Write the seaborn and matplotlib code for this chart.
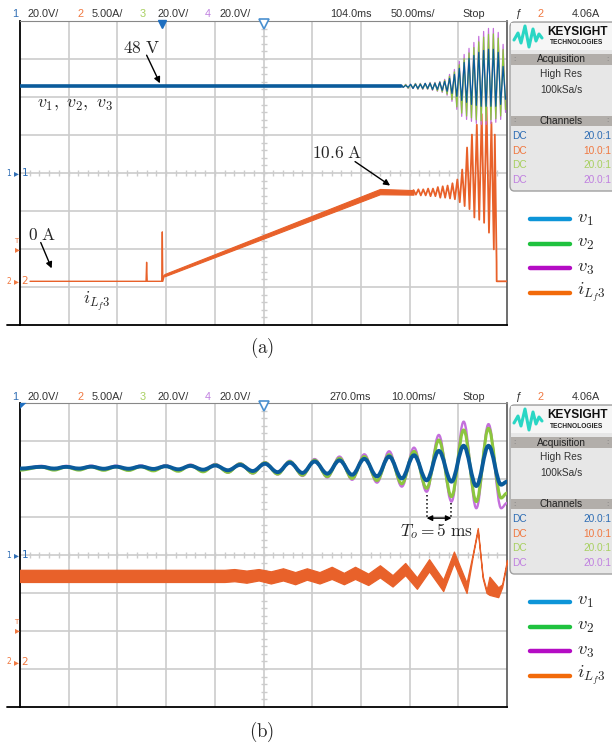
import numpy as np
import matplotlib
matplotlib.use("Agg")
import matplotlib.pyplot as plt
import seaborn as sns
from matplotlib.path import Path
from matplotlib.patches import PathPatch, FancyBboxPatch, Rectangle
from matplotlib.lines import Line2D

# screen scaling
V_DIV = 20.0      # V per division (ch1, ch3, ch4)
I_DIV = 5.0       # A per division (ch2)
I_ZERO = -2.85    # ch2 ground marker, in divisions
HALF = 2.5        # half of To = 5 ms

# ---------- (a) 50 ms/div, delay 104 ms ----------
A_CENTER, A_TDIV = 104.0, 50.0
va_flat_t = [-146.0, 245.0]
va_flat = 45.6
va_cyc_t = [245, 250, 255, 260, 265, 270, 275, 280, 285, 290, 295,
            300, 305, 310, 315, 320, 325, 330, 335, 340, 345, 350]
va1_top = [46.1, 46.1, 46.7, 46.7, 46.7, 47.2, 47.2, 47.2, 47.7, 48.2, 49.8,
           51.9, 55.1, 58.2, 60.3, 61.9, 63.5, 64.5, 65.1, 65.1, 63.5, 56.1]
va1_bot = [45.1, 45.1, 44.5, 44.5, 44.5, 44.5, 44.0, 44.0, 43.5, 43.0, 41.9,
           40.3, 38.2, 37.2, 36.1, 35.6, 35.1, 35.1, 35.1, 35.1, 36.1, 38.8]
va2_top = [46.0, 46.5, 46.5, 47.0, 47.0, 47.0, 47.4, 47.4, 47.9, 48.8, 50.9,
           53.2, 57.0, 60.2, 63.2, 66.0, 69.0, 71.5, 73.0, 73.2, 71.0, 65.0]
va2_bot = [45.2, 44.7, 44.7, 44.2, 44.2, 44.2, 43.8, 43.3, 42.8, 41.5, 38.6,
           34.8, 31.5, 30.0, 29.0, 28.0, 27.5, 27.5, 28.0, 28.6, 30.0, 33.5]
va3_top = [46.1, 46.7, 46.7, 47.2, 47.2, 47.2, 47.7, 47.7, 48.2, 49.3, 51.9,
           54.5, 58.8, 62.4, 65.6, 68.7, 71.9, 74.5, 76.1, 76.1, 74.0, 67.7]
va3_bot = [45.1, 44.5, 44.5, 44.0, 44.0, 44.0, 43.5, 43.0, 42.4, 40.9, 37.7,
           33.5, 29.8, 28.2, 27.2, 26.1, 25.6, 25.6, 26.1, 26.7, 28.2, 31.9]

ia_t = [-135.7, -16.6, -16.0, -15.4, -0.5, 0.1, 0.6, 2.2]
ia_v = [0.0, 0.0, 2.5, 0.0, 0.0, 6.5, 0.0, 0.8]
ia_ramp_t = [2.2, 223.6, 258.0]
ia_ramp_lo = [0.65, 11.45, 11.4]
ia_ramp_hi = [0.95, 12.15, 12.0]
ia_cyc_t = [258, 263, 268, 273, 278, 283, 288, 293, 298, 303, 308, 313, 318,
            323, 328, 333, 338]
ia_top = [12.0, 12.1, 12.1, 12.2, 12.2, 12.4, 12.5, 12.6, 12.9, 13.4, 14.7,
          17.6, 19.3, 20.6, 22.0, 22.9, 20.9]
ia_bot = [11.4, 11.3, 11.3, 11.2, 11.2, 11.0, 11.0, 10.9, 10.8, 10.4, 9.9,
          9.5, 8.4, 8.1, 7.7, 6.4, 4.2]
ia_tail_t = [341.5, 343.3, 343.4, 354.0]
ia_tail_v = [19.3, 2.5, 0.0, 0.0]

# ---------- (b) 10 ms/div, delay 270 ms ----------
B_CENTER, B_TDIV = 270.0, 10.0
vb_pk_t = [224.4, 229.5, 234.6, 239.7, 244.8, 249.9, 255.0, 260.1, 265.2, 270.3,
           275.4, 280.5, 285.6, 290.7, 295.8, 300.9, 306.0, 311.1, 316.2]
vb_tr_t = [220.0, 227.0, 232.1, 237.2, 242.3, 247.4, 252.5, 257.6, 262.7, 267.8,
           272.9, 278.0, 283.1, 288.2, 293.3, 298.4, 303.5, 308.6, 313.7, 318.8]
vb_end_t = 320.0
vb1_pk = [46.4, 46.4, 46.5, 46.5, 46.6, 46.7, 46.9, 47.1, 47.4, 48.0,
          48.6, 49.2, 49.8, 50.6, 51.8, 52.5, 54.8, 57.5, 57.5]
vb1_tr = [45.5, 45.5, 45.5, 45.4, 45.4, 45.3, 45.1, 44.9, 44.6, 44.2,
          43.6, 43.2, 42.8, 42.2, 41.4, 40.3, 39.3, 38.6, 36.3, 37.0]
vb1_end = 38.6
vb2_pk = [46.3, 46.3, 46.4, 46.4, 46.5, 46.8, 47.2, 47.5, 48.0, 48.6,
          49.2, 49.9, 50.9, 51.8, 52.8, 54.5, 60.5, 65.8, 66.7]
vb2_tr = [44.7, 44.7, 44.7, 44.6, 44.5, 44.3, 44.1, 43.8, 43.5, 43.1,
          42.6, 42.0, 41.3, 40.3, 39.2, 37.5, 35.1, 30.7, 28.1, 30.0]
vb2_end = 32.6
vb3_pk = [46.9, 46.9, 47.0, 47.0, 47.1, 47.3, 47.6, 47.9, 48.3, 48.9,
          49.6, 50.5, 51.8, 53.0, 54.6, 56.5, 63.2, 70.2, 68.9]
vb3_tr = [45.2, 45.2, 45.2, 45.1, 45.0, 44.7, 44.3, 43.9, 43.4, 42.9,
          42.4, 41.6, 40.8, 39.6, 38.1, 36.0, 33.3, 28.1, 24.6, 24.6]
vb3_end = 27.4

ib_t = [220, 262, 264, 266.5, 269, 271.5, 274, 276.5, 278.9, 281.5, 284, 286.5,
        288.8, 291.5, 293.9, 296.5, 299.1, 301.5, 304, 306.9, 309.1, 311.7,
        313.0, 314.0, 315.0, 315.8, 316.4, 318.2, 319.0, 320]
ib_hi = [12.3, 12.3, 12.4, 12.2, 12.4, 12.1, 12.5, 12.0, 12.5, 12.0, 12.7, 11.9,
         12.7, 11.8, 12.9, 11.6, 13.2, 11.3, 13.7, 11.0, 14.7, 10.6,
         14.5, 17.8, 11.5, 9.6, 11.4, 10.0, 10.4, 13.6]
ib_lo = [10.7, 10.7, 10.8, 10.6, 10.9, 10.5, 10.9, 10.4, 11.0, 10.5, 11.1, 10.4,
         11.1, 10.3, 11.3, 10.1, 11.6, 9.8, 12.1, 9.5, 13.2, 9.25,
         14.2, 17.5, 11.2, 9.25, 9.0, 8.7, 10.0, 13.3]

# header / side panel text
hdr_a = ["104.0ms", "50.00ms/"]
hdr_b = ["270.0ms", "10.00ms/"]
chan_rows = [("DC", "20.0:1"), ("DC", "10.0:1"), ("DC", "20.0:1"), ("DC", "20.0:1")]
leg_labels = [r"$v_1$", r"$v_2$", r"$v_3$", r"$i_{L_f3}$"]

# colours
C_V1, C_V2, C_V3, C_I = "#0a5b9b", "#8cc63e", "#c46fdc", "#e8612a"
LEG_C = ["#0d95d8", "#1fc23f", "#b40cc4", "#f26a0a"]
CH_C = ["#2e6db4", "#f07840", "#a8d060", "#c080e0"]
GRID = "#cccccc"
TXT = "#333333"

sns.set_style("white")
plt.rcParams["font.family"] = ["Liberation Sans", "DejaVu Sans"]
plt.rcParams["mathtext.fontset"] = "cm"

W, H = 612, 749
fig = plt.figure(figsize=(W / 100, H / 100), dpi=100)


def fx(px):
    return px / W


def fy(py):
    return 1 - py / H


def vdiv(v):
    return np.asarray(v, dtype=float) / V_DIV


def idiv(i):
    return np.asarray(i, dtype=float) / I_DIV + I_ZERO


def zigzag(t_cyc, tops, bots):
    t, v = [], []
    for tc, hi, lo in zip(t_cyc, tops, bots):
        t += [tc, tc + HALF]
        v += [hi, lo]
    return np.array(t), np.array(v)


def merge(t1, v1, t2, v2, t_end, v_end):
    t = np.array(list(t1) + list(t2) + [t_end])
    v = np.array(list(v1) + list(v2) + [v_end])
    o = np.argsort(t)
    return t[o], v[o]


def smooth(ax, t, y, color, lw, z):
    # bezier through the read extrema, flat tangents at each extremum
    k = 0.3634
    verts = [(t[0], y[0])]
    codes = [Path.MOVETO]
    for i in range(1, len(t)):
        d = (t[i] - t[i - 1]) * k
        verts += [(t[i - 1] + d, y[i - 1]), (t[i] - d, y[i]), (t[i], y[i])]
        codes += [Path.CURVE4] * 3
    ax.add_patch(PathPatch(Path(verts, codes), fill=False, ec=color, lw=lw,
                           zorder=z, capstyle="round", joinstyle="round"))


def scope_axes(top_px, center, tdiv):
    ax = fig.add_axes([fx(20), fy(top_px + 304), fx(487), 304 / H])
    xmin = center - 5 * tdiv
    ax.set_xlim(xmin, center + 5 * tdiv)
    ax.set_ylim(-4, 4)
    ax.set_xticks([])
    ax.set_yticks([])
    for k in range(1, 10):
        ax.axvline(xmin + k * tdiv, color=GRID, lw=1.2, zorder=0)
    for k in range(-3, 4):
        ax.axhline(k, color=GRID, lw=1.2, zorder=0)
    ax.plot(xmin + np.arange(1, 50) * tdiv / 5, np.zeros(49), ls="none",
            marker="|", ms=4, mew=1, color=GRID, zorder=0)
    ax.plot(np.full(39, center), np.arange(-19, 20) / 5, ls="none",
            marker="_", ms=5, mew=1, color=GRID, zorder=0)
    for s in ["left", "bottom"]:
        ax.spines[s].set_color("black")
        ax.spines[s].set_linewidth(1.3)
    ax.spines["top"].set_color("#888888")
    ax.spines["top"].set_linewidth(0.8)
    ax.spines["right"].set_color("#555555")
    ax.spines["right"].set_linewidth(1.2)
    fig.add_artist(Line2D([fx(7), fx(20)], [fy(top_px + 304)] * 2,
                          color="black", lw=1.3))
    return ax


def header(y, delay, tbase):
    items = [(12, "1", CH_C[0]), (28, "20.0V/", TXT), (77, "2", CH_C[1]),
             (92, "5.00A/", TXT), (140, "3", CH_C[2]), (157, "20.0V/", TXT),
             (205, "4", CH_C[3]), (220, "20.0V/", TXT), (330, delay, TXT),
             (391, tbase, TXT), (462, "Stop", TXT), (516, "ƒ", TXT),
             (537, "2", CH_C[1]), (572, "4.06A", TXT)]
    for x, s, c in items:
        fig.text(fx(x), fy(y), s, color=c, fontsize=7.8, ha="left", va="center")


def side_markers(cy, gy, ty):
    kw = dict(ha="center", va="center", family="DejaVu Sans")
    fig.text(fx(9), fy(cy), "1", color=CH_C[0], fontsize=5.5, **kw)
    fig.text(fx(16), fy(cy), "▸", color=CH_C[0], fontsize=7, **kw)
    fig.text(fx(25), fy(cy), "1", color=CH_C[0], fontsize=7.5, **kw)
    fig.text(fx(9), fy(gy), "2", color=CH_C[1], fontsize=5.5, **kw)
    fig.text(fx(16), fy(gy), "▸", color=CH_C[1], fontsize=7, **kw)
    fig.text(fx(25), fy(gy), "2", color=CH_C[1], fontsize=7.5, **kw)
    fig.text(fx(16), fy(ty - 8), "T", color=CH_C[1], fontsize=5, **kw)
    fig.text(fx(17), fy(ty), "▸", color=CH_C[1], fontsize=7, **kw)


def rect(x0, yt, x1, yb, **kw):
    fig.add_artist(Rectangle((fx(x0), fy(yb)), fx(x1) - fx(x0), fy(yt) - fy(yb),
                             transform=fig.transFigure, **kw))


def keysight(y0):
    fig.add_artist(FancyBboxPatch((fx(510), fy(y0 + 191)), fx(108), 169 / H,
                                  boxstyle="round,pad=0,rounding_size=0.007",
                                  transform=fig.transFigure, fc="#e7e7e7",
                                  ec="#a0a0a0", lw=1.0))
    rect(511, y0 + 23, 612, y0 + 50, fc="#f6f6f6", ec="none")
    lx = [514, 518, 521, 525, 529, 533, 536, 539, 542]
    ly = [40, 33, 43, 26, 47, 29, 41, 34, 38]
    fig.add_artist(Line2D([fx(x) for x in lx], [fy(y0 + y) for y in ly],
                          color="#2ad6c4", lw=2.2, solid_joinstyle="round"))
    fig.text(fx(577), fy(y0 + 32), "KEYSIGHT", fontsize=8.6, weight="bold",
             ha="center", va="center", color="#111111")
    fig.text(fx(577), fy(y0 + 43), "TECHNOLOGIES", fontsize=4.8, weight="bold",
             ha="center", va="center", color="#222222")
    for yt, yb, lab in [(54, 65, "Acquisition"), (116, 126, "Channels")]:
        rect(511, y0 + yt, 612, y0 + yb, fc="#b2aeaa", ec="none")
        fig.text(fx(561), fy(y0 + (yt + yb) / 2), lab, fontsize=7.3,
                 ha="center", va="center", color="#222222")
        for xh in (514, 607):
            fig.text(fx(xh), fy(y0 + (yt + yb) / 2), ":", fontsize=6,
                     ha="center", va="center", color="#777777")
    fig.text(fx(561), fy(y0 + 74), "High Res", fontsize=7.3, ha="center",
             va="center", color=TXT)
    fig.text(fx(561), fy(y0 + 90), "100kSa/s", fontsize=7.3, ha="center",
             va="center", color=TXT)
    for k, (a, b) in enumerate(chan_rows):
        yy = fy(y0 + 136 + 14.7 * k)
        fig.text(fx(512), yy, a, fontsize=7.3, ha="left", va="center", color=CH_C[k])
        fig.text(fx(611), yy, b, fontsize=7.3, ha="right", va="center", color=CH_C[k])


def legend(y0):
    for k, lab in enumerate(leg_labels):
        yy = fy(y0 + 219 + 24.5 * k)
        fig.add_artist(Line2D([fx(530), fx(570)], [yy, yy], color=LEG_C[k], lw=3.2))
        fig.text(fx(577), yy, lab, fontsize=13.5, ha="left", va="center")


# ======================= panel (a) =======================
ax = scope_axes(21, A_CENTER, A_TDIV)
header(14, *hdr_a)
side_markers(173, 281, 249)
keysight(0)
legend(0)

# current ch2
sns.lineplot(x=ia_t, y=idiv(ia_v), ax=ax, color=C_I, lw=1.0,
             estimator=None, sort=False, zorder=3)
ax.fill_between(ia_ramp_t, idiv(ia_ramp_lo), idiv(ia_ramp_hi), color=C_I,
                lw=0.8, zorder=3)
t_i, v_i = zigzag(ia_cyc_t, ia_top, ia_bot)
t_i = np.concatenate([t_i, ia_tail_t])
v_i = np.concatenate([v_i, ia_tail_v])
sns.lineplot(x=t_i, y=idiv(v_i), ax=ax, color=C_I, lw=1.3,
             estimator=None, sort=False, zorder=3)

# voltages
for tops, bots, c, z in [(va3_top, va3_bot, C_V3, 4), (va2_top, va2_bot, C_V2, 5),
                         (va1_top, va1_bot, C_V1, 6)]:
    t_v, v_v = zigzag(va_cyc_t, tops, bots)
    sns.lineplot(x=t_v, y=vdiv(v_v), ax=ax, color=c, lw=0.9,
                 estimator=None, sort=False, zorder=z)
sns.lineplot(x=va_flat_t, y=vdiv([va_flat, va_flat]), ax=ax, color=C_V1,
             lw=2.6, estimator=None, sort=False, zorder=7)

# trigger / delay markers
ax.plot([0], [3.92], marker="v", ms=6, color="#1f6fc0", clip_on=False, zorder=8)
ax.plot([A_CENTER], [3.92], marker="v", ms=7, mfc="white", mec="#4a90d0",
        mew=1.2, clip_on=False, zorder=8)

arrow = dict(arrowstyle="-|>", color="black", lw=1.0, mutation_scale=9,
             shrinkA=0, shrinkB=0)
ax.text(-20.7, 3.29, r"$48\ \mathrm{V}$", fontsize=12.5, ha="center", va="center", zorder=9)
ax.annotate("", xy=(-2.3, 2.36), xytext=(-16, 3.1), arrowprops=arrow, zorder=9)
ax.text(-89.5, 1.79, r"$v_1,\ v_2,\ v_3$", fontsize=13, ha="center", va="center", zorder=9)
ax.text(179.5, 0.53, r"$10.6\ \mathrm{A}$", fontsize=12.5, ha="center", va="center", zorder=9)
ax.annotate("", xy=(234, -0.33), xytext=(198, 0.30), arrowprops=arrow, zorder=9)
ax.text(-123.7, -1.63, r"$0\ \mathrm{A}$", fontsize=12.5, ha="center", va="center", zorder=9)
ax.annotate("", xy=(-113.5, -2.51), xytext=(-124.7, -1.83), arrowprops=arrow, zorder=9)
ax.text(-67.3, -3.39, r"$i_{L_f3}$", fontsize=13, ha="center", va="center", zorder=9)

fig.text(fx(262), fy(348), r"$\mathrm{(a)}$", fontsize=13.5, ha="center", va="center")

# ======================= panel (b) =======================
bx = scope_axes(403, B_CENTER, B_TDIV)
header(397, *hdr_b)
side_markers(555, 662, 630)
keysight(383)
legend(383)

bx.fill_between(ib_t, idiv(ib_lo), idiv(ib_hi), color=C_I, lw=0.9, zorder=3)

for pk, tr, end, c, lw, z in [(vb3_pk, vb3_tr, vb3_end, C_V3, 1.7, 4),
                              (vb2_pk, vb2_tr, vb2_end, C_V2, 2.2, 5),
                              (vb1_pk, vb1_tr, vb1_end, C_V1, 2.8, 6)]:
    t_s, v_s = merge(vb_pk_t, pk, vb_tr_t, tr, vb_end_t, end)
    smooth(bx, t_s, vdiv(v_s), c, lw, z)

bx.plot([B_CENTER], [3.92], marker="v", ms=7, mfc="white", mec="#4a90d0",
        mew=1.2, clip_on=False, zorder=8)
fig.text(fx(23), fy(406), "◤", color="#1f6fc0", fontsize=6, ha="center",
         va="center", family="DejaVu Sans")

bx.plot([303.5, 303.5], [1.58, 0.95], ls=":", color="black", lw=1.1, zorder=9)
bx.plot([308.6, 308.6], [1.36, 0.95], ls=":", color="black", lw=1.1, zorder=9)
bx.annotate("", xy=(303.5, 0.97), xytext=(308.6, 0.97),
            arrowprops=dict(arrowstyle="<|-|>", color="black", lw=1.0,
                            mutation_scale=8, shrinkA=0, shrinkB=0), zorder=9)
bx.text(305.6, 0.63, r"$T_o = 5\ \mathrm{ms}$", fontsize=12.5, ha="center",
        va="center", zorder=9)

fig.text(fx(262), fy(732), r"$\mathrm{(b)}$", fontsize=13.5, ha="center", va="center")

fig.savefig("out.png", dpi=100)
